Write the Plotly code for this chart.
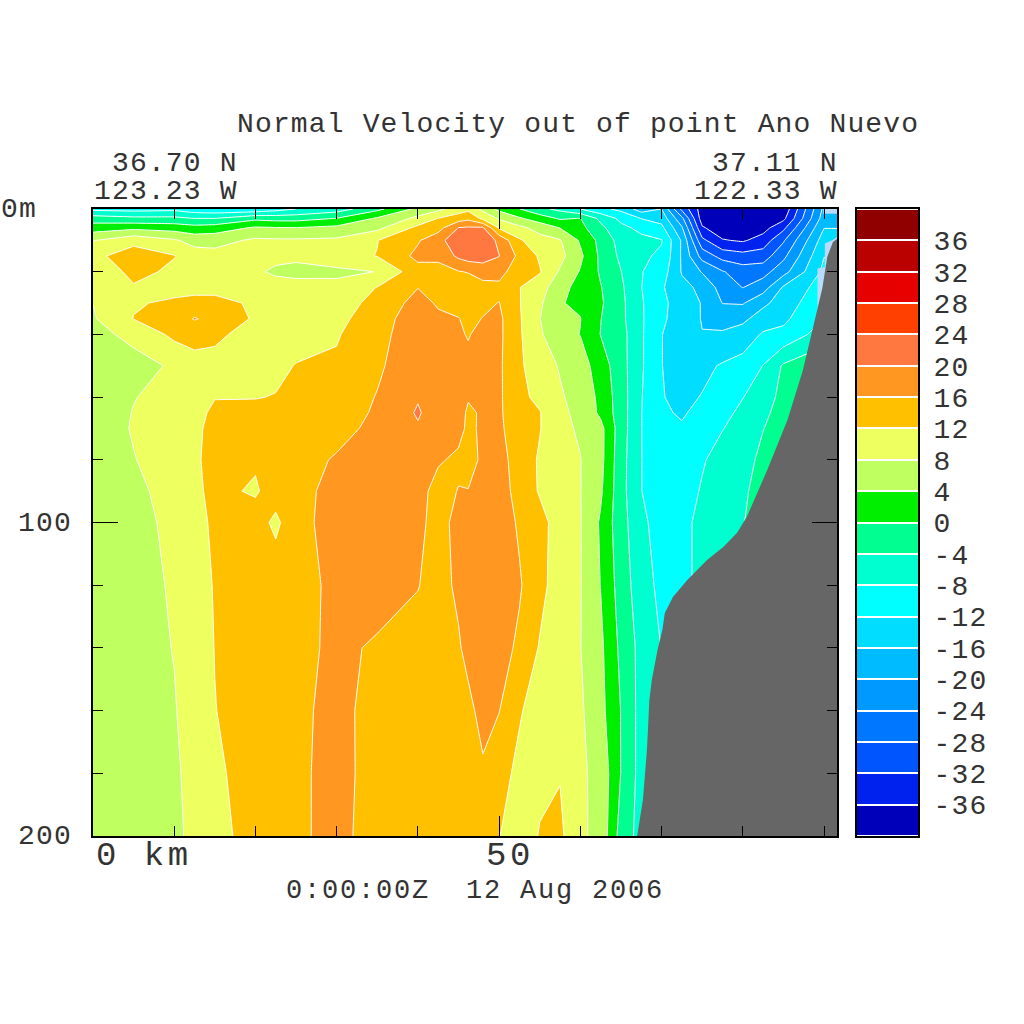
import numpy as np
import plotly.graph_objects as go

TITLE = "Normal Velocity out of point Ano Nuevo"
DATE = "0:00:00Z  12 Aug 2006"
depths = [0,3,6,10,15,20,25,30,35,40,50,60,65,70,80,90,100,120,140,160,180,200]
km = [0,5,10,12.5,15,20,22.5,25,30,35,40,42.5,45,46.2,48,50,52.5,55,57.5,60,62.5,65,67.5,70,72.5,75,77.5,80,82.5,85,90,91.6]

c00 = [-9,-2,2,7.8,11,7.9,8.8,8.05,7.6,7.3,7,6.6,6.5,6.5,6.5,6.3,6,6,6,5.8,5.6,5.5]
c05 = [-9.5,-3,3,10.8,14,13.5,11.5,11.7,12.1,8.6,7.2,7.9,8.1,8.2,7.9,7.5,7.2,7,6.8,6.6,6.5,6.4]
c10 = [-9,-3,2.3,8.5,12.2,11,11,12.5,13.5,13,8.3,8.9,9.2,9.5,9.2,8.8,8.6,8.3,8.1,7.8,7.5,7.3]
c125 = [-10.5,-4,1.5,6.5,10,10.5,11,13,16.3,13,11,11,11.2,11.3,11.3,11.2,10.5,10,9.7,9.4,9,8.8]
c15 = [-11,-4,2,6.5,9.5,10,11,13,14.7,12.5,11.2,11.9,12.5,13,13.5,13,12.8,12.3,12.1,11.9,11.4,11.2]
c20 = [-11,-1,4.5,8.7,10,8.7,11,11.5,11.5,11,11,11.9,12.7,13.3,12.5,11.5,14,14.5,14.5,14,13.5,13]
c225 = [-9.5,-1.5,4.2,8.5,9.2,7.2,10,11,11.2,11,11.4,12.1,13,14,14.5,14,11,14.8,15,14.7,14.3,14]
c25 = [-8,-1.5,4.1,8.5,8.7,7,9.3,10.5,11,11,12.1,13,13.5,14,14.8,15,15.2,15.2,15.3,15.4,15.4,15.4]
c30 = [-6,0.1,5,8.7,10.7,7,9.3,10.5,11,11.7,12.5,13.5,14.2,15,16.3,17,17,16.5,16.5,16.8,17,17]
c35 = [-1,4.5,7,11.9,12.1,8.1,12.1,13,14,14.5,15.3,16.2,16.5,16.8,17.5,18,18,17,15.7,15,14.8,14.5]
c40 = [5,9,13,15.6,17,14.5,15.9,17.5,18.5,18.8,19,19.7,20.4,19.6,18.5,17,16.8,16.1,15,14.5,14.3,14]
c425 = [7,12.1,14.5,18.5,17,14.5,14.5,15.5,16.8,17.5,18,18,18,17.7,16.3,15,14.8,15,14.8,14.5,14.2,14]
c45 = [10,14,20.1,23,20.8,15.8,14,15,16.1,16.2,17,17.5,17,16.8,15.5,16.1,17,16.5,15.7,15,14,13.5]
c46 = [11,15,20.5,23.5,22,16.2,14,14.5,15.3,15.9,16.4,16.2,15.6,15.5,15.4,16.05,17.3,17.8,16.8,15.3,13.8,13]
c48 = [7,11,20.5,23,22,17.5,14.8,15.3,16.1,16.5,16.5,16.4,16.3,16.4,16.3,16.8,17.6,18,17.2,16.9,15.6,12.6]
c50 = [3,7.5,11.5,19,20.1,17.5,15,16.1,16.8,16.8,16.6,16.6,16.6,16.8,17.2,17.5,18,18.3,17.5,16.1,13.5,12.1]
c525 = [0.1,4.5,9,12.5,15,13.5,12.1,12.2,12.4,12.5,12.8,13,13.3,13.5,14.5,14.8,15.5,16.4,15.3,12.4,11,10.2]
c55 = [-3,2,6.5,9.5,11.5,12.3,10,8.7,8.1,8.5,9.2,11,12.2,12.2,11.5,11.6,13.5,13.2,11.7,10,11.3,12.2]
c575 = [-5,-0.5,3.9,8.3,9.2,7.5,5,4.2,5,5.5,7.8,8.3,8.6,8.8,9,9.3,10,10,9.5,9.8,11.8,12.8]
c60 = [-8,0.1,1.2,3.5,4.8,3.7,3,3.4,4.1,3.9,5.8,7,7.3,7.6,8.1,8.1,8.2,8.2,8.1,8.6,8.7,8.7]
c625 = [-11,-5,-3,-1.2,-0.8,-0.5,0.2,0.5,0.1,-0.1,2,2.9,3.2,5.2,5.2,4.6,3.5,3.9,4.8,5.2,6.7,6.8]
c65 = [-13,-9,-7,-5.5,-4.8,-3.9,-3.3,-3,-3,-2.5,-2.4,-2.1,-2.1,-2.1,-2.5,-2.6,-2.6,-1.8,-0.9,-0.1,-0.1,-1.6]
c675 = [-18,-12.1,-9,-7,-7.5,-7.8,-7.9,-7.6,-7.5,-7.5,-7.5,-7.8,-7.9,-7.9,-7.9,-7.9,-6.7,-6.3,-5.3,-5.5,-5.5,-5.5]
c70 = [-16,-13.5,-11,-7.8,-8.5,-10,-11.5,-11,-11.3,-11.9,-11.9,-11.8,-11.6,-11.5,-11,-11,-10.5,-9,-8.1,-6,-6,-6]
c725 = [-29,-23,-19.5,-16.5,-16.5,-16.3,-15,-14,-13.9,-14,-14,-13,-12.3,-11.7,-10.5,-9.5,-9,-9,-8.1,-8.1,-8.1,-8.1]
c75 = [-38,-38,-35.5,-31,-25.5,-20.3,-16.8,-16.2,-16.2,-15.9,-13,-11.8,-11.2,-10,-8.3,-7.7,-7,-7,-7,-7,-7,-7]
c775 = [-39.9,-39.5,-38.5,-35.7,-29.5,-23.7,-21.8,-20.1,-17.5,-15.5,-11.6,-10,-9,-8.1,-6.8,-6,-5.5,-5,-5,-5,-5,-5]
c80 = [-39.9,-39.5,-39,-36.5,-30.5,-26,-24.1,-20.3,-17,-14,-10.7,-8.1,-7.2,-6.8,-5.5,-4.4,-4.1,-3.9,-3.9,-3.9,-3.9,-3.9]
c825 = [-39.9,-39,-37.5,-34.3,-30,-25.5,-21.8,-17,-13.8,-11.6,-7.9,-6.3,-5,-4.1,-3,-3,-3,-3,-3,-3,-3,-3]
c85 = [-39,-37,-33,-28.5,-25,-21.5,-15.5,-14,-12.8,-11,-3.5,-2.5,-2.2,-2.1,-2.1,-2.1,-2.1,-2.1,-2.1,-2.1,-2.1,-2.1]
c90 = [-19,-18,-16.1,-14,-12.1,-11,-10,-9,-7.9,-6,-1,-1,-1,-1,-1,-1,-1,-1,-1,-1,-1,-1]
c916 = [-18,-17.8,-16.1,-14,-12.1,-11,-10,-9,-7.9,-6,-1,-1,-1,-1,-1,-1,-1,-1,-1,-1,-1,-1]

bottom_km = [67.0,67.7,68.2,68.5,68.8,69.5,70.1,70.4,71.4,73.2,75.6,77.6,79.3,80.5,83,85.5,87.4,88.5,89.2,89.8,90.4,91.1,91.6,91.6,67.0]
bottom_m = [200,188.5,172.6,156.6,150.2,140.7,134.3,128.9,123.8,118.3,112,107.8,103.3,98.2,83.3,67.3,51.4,39.6,31.3,25.2,15.3,10.5,9.6,200,200]
pale_km = [89.2,89.2,90.1,90.1,91,91.6,91.6,89.2]
pale_m = [29,19,18.5,11,10,9,40,40]
pale2_km = [89.9,91.6,91.6,89.9]
pale2_m = [0,0,1.5,1.5]

levels = list(range(-40, 41, 4))
band_colors = ["#0000bb","#0022ee","#0055ff","#0077ff","#0099ff","#00bbff","#00ddff","#00ffff",
               "#00ffd0","#00ff90","#00ee00","#bfff60","#eeff60","#ffc000","#ff9720","#ff7840",
               "#ff4000","#e60000","#bb0000","#900000"]
cbar_ticks = list(range(-36, 37, 4))

columns = [c00,c05,c10,c125,c15,c20,c225,c25,c30,c35,c40,c425,c45,c46,c48,c50,c525,c55,c575,c60,c625,c65,c675,c70,c725,c75,c775,c80,c825,c85,c90,c916]
z = np.array(columns, dtype=float).T

cs = []
n = len(band_colors)
for i, c in enumerate(band_colors):
    cs.append([i / n, c])
    cs.append([(i + 1) / n, c])

FONT = "Liberation Mono"
INK = "#333333"
def spaced(t, px=1.15):
    return f'<span style="letter-spacing:{px}px">{t}</span>'

fig = go.Figure()
fig.add_trace(go.Contour(x=km, y=depths, z=z, colorscale=cs, zmin=-40, zmax=40, autocontour=False,
                         contours=dict(start=-40, end=40, size=4, coloring="fill"),
                         line=dict(color="white", width=1, smoothing=0), showscale=False, hoverinfo="skip"))
for xs, ys, col in [(pale_km, pale_m, "#b8dcff"), (pale2_km, pale2_m, "#b8dcff"), (bottom_km, bottom_m, "#666666")]:
    fig.add_trace(go.Scatter(x=xs, y=ys, mode="lines", fill="toself", fillcolor=col,
                             line=dict(width=0, color=col), showlegend=False, hoverinfo="skip"))

edges = levels
fig.add_trace(go.Heatmap(x=[0, 1], y=edges, z=[[(a + b) / 2] for a, b in zip(levels[:-1], levels[1:])],
                         colorscale=cs, zmin=-40, zmax=40, showscale=False, ygap=2, xaxis="x2", yaxis="y2", hoverinfo="skip"))

W = 1024.0
def px(v): return v / W
def py(v): return 1 - v / W

axis_common = dict(showgrid=False, zeroline=False, showline=True, linecolor="black", linewidth=2, mirror="ticks",
                   ticks="inside", tickcolor="black", tickwidth=1, showticklabels=False, layer="above traces")
fig.update_layout(
    width=1024, height=1024, margin=dict(l=0, r=0, t=0, b=0), paper_bgcolor="white", plot_bgcolor="white",
    showlegend=False,
    xaxis=dict(domain=[px(93), px(837)], range=[0, 91.6], tick0=0, dtick=50, ticklen=20,
               minor=dict(dtick=10, ticks="inside", ticklen=10, tickcolor="black", tickwidth=1), **axis_common),
    yaxis=dict(domain=[py(836), py(209)], range=[200, 0], tick0=0, dtick=100, ticklen=25,
               minor=dict(dtick=20, ticks="inside", ticklen=10, tickcolor="black", tickwidth=1), **axis_common),
    xaxis2=dict(domain=[px(857), px(918)], range=[0, 1], anchor="y2", showticklabels=False, ticks="", showgrid=False,
                zeroline=False, showline=True, linecolor="black", linewidth=2, mirror=True),
    yaxis2=dict(domain=[py(836), py(209)], range=[-40, 40], anchor="x2", side="right", showgrid=False, zeroline=False,
                showline=True, linecolor="black", linewidth=2, mirror=True, ticks="", tickmode="array",
                tickvals=cbar_ticks, ticktext=[spaced(str(t)) for t in cbar_ticks], ticklabelstandoff=8,
                tickfont=dict(family=FONT, size=28, color=INK)),
)

def label(text, x, y, size=28):
    fig.add_annotation(text=text, xref="paper", yref="paper", x=px(x), y=py(y), xanchor="left", yanchor="middle",
                       showarrow=False, borderpad=0, font=dict(family=FONT, size=size, color=INK))

label(spaced(TITLE), 236, 124)
label(spaced("36.70 N"), 111, 163)
label(spaced("123.23 W"), 93, 191)
label(spaced("37.11 N"), 711, 163)
label(spaced("122.33 W"), 693, 191)
label(spaced("0m"), 0, 209)
label(spaced("100"), 17, 523)
label(spaced("200"), 17, 836)
label(spaced("0 km", 3.5), 95, 856, 34)
label(spaced("50", 3.5), 485, 856, 34)
label(spaced(DATE, 1.8), 285, 891, 27)

fig.write_html("out.html", post_script="document.body.style.margin='0';", config={"displayModeBar": False})
